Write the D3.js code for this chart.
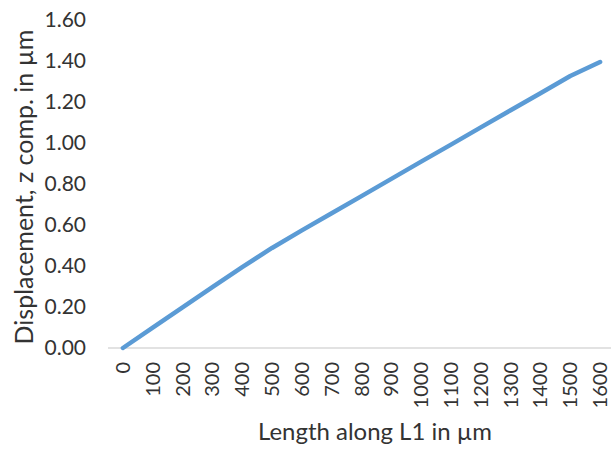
<!DOCTYPE html>
<html>
<head>
<meta charset="utf-8">
<script src="https://cdn.jsdelivr.net/npm/d3@7"></script>
<style>
  html, body { margin: 0; padding: 0; background: #fff; }
  svg { display: block; font-family: Lato, "Open Sans", sans-serif; }
</style>
</head>
<body>
<svg id="chart" width="611" height="449"></svg>
<script>
const categories = ["0","100","200","300","400","500","600","700","800","900","1000","1100","1200","1300","1400","1500","1600"];
const values = [0, 0.099, 0.198, 0.297, 0.395, 0.488, 0.574, 0.657, 0.741, 0.825, 0.909, 0.992, 1.076, 1.160, 1.243, 1.327, 1.395];
const yTicks = [0, 0.2, 0.4, 0.6, 0.8, 1.0, 1.2, 1.4, 1.6];
const xTitle = "Length along L1 in µm";
const yTitle = "Displacement, z comp. in µm";

const svg = d3.select("#chart");
const plot = { left: 108, right: 615, top: 20, bottom: 348 };

const x = d3.scaleBand().domain(categories).range([plot.left, plot.right]).padding(0);
const y = d3.scaleLinear().domain([0, 1.6]).range([plot.bottom, plot.top]);
const cx = c => x(c) + x.bandwidth() / 2;

const textColor = "#333333";

// x axis line
svg.append("line")
  .attr("x1", plot.left).attr("x2", 611)
  .attr("y1", y(0)).attr("y2", y(0))
  .attr("stroke", "#d9d9d9").attr("stroke-width", 1.5);

// y tick labels
svg.append("g").selectAll("text").data(yTicks).join("text")
  .attr("x", 86).attr("y", d => y(d))
  .attr("dy", "0.35em")
  .attr("text-anchor", "end")
  .attr("font-size", 21)
  .attr("fill", textColor)
  .text(d => d3.format(".2f")(d));

// x tick labels (rotated)
svg.append("g").selectAll("text").data(categories).join("text")
  .attr("transform", d => `translate(${cx(d)},${y(0) + 14}) rotate(-90)`)
  .attr("dy", "0.35em")
  .attr("text-anchor", "end")
  .attr("font-size", 20)
  .attr("fill", textColor)
  .text(d => d);

// line
const line = d3.line()
  .x((d, i) => cx(categories[i]))
  .y(d => y(d));

svg.append("path")
  .datum(values)
  .attr("d", line)
  .attr("fill", "none")
  .attr("stroke", "#5B9BD5")
  .attr("stroke-width", 4.5)
  .attr("stroke-linecap", "round")
  .attr("stroke-linejoin", "round");

// titles
function fit(sel, target) {
  let fs = 20;
  sel.attr("font-size", fs);
  const len = sel.node().getComputedTextLength();
  if (len > 0) sel.attr("font-size", fs * target / len);
}

const xt = svg.append("text")
  .attr("x", 375).attr("y", 440)
  .attr("text-anchor", "middle")
  .attr("fill", textColor)
  .text(xTitle);
fit(xt, 234);

const yt = svg.append("text")
  .attr("transform", `translate(33,187) rotate(-90)`)
  .attr("text-anchor", "middle")
  .attr("fill", textColor)
  .text(yTitle);
fit(yt, 315);
</script>
</body>
</html>
